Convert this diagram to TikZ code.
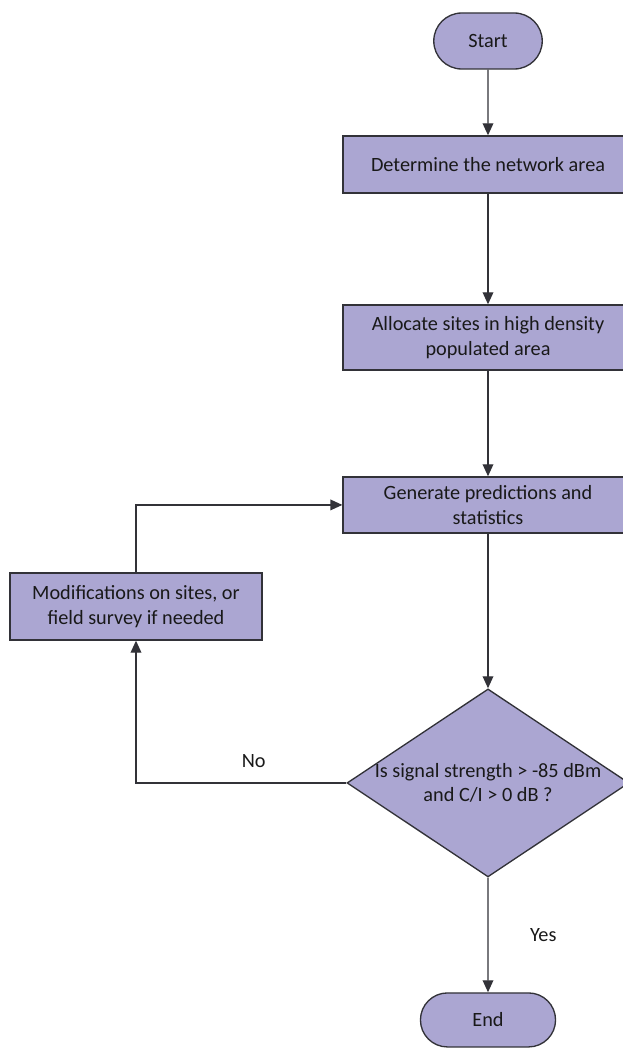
\documentclass[tikz,border=0pt]{standalone}
\usepackage{fontspec}
\setmainfont{Carlito}
\usetikzlibrary{shapes.geometric,shapes.misc,arrows.meta,positioning}
\definecolor{boxfill}{RGB}{171,166,210}
\definecolor{inkgray}{RGB}{50,50,56}

\begin{document}
\begin{tikzpicture}[x=0.75pt, y=-0.75pt, >={Triangle[width=8pt,length=9pt]}, ->, line width=1pt, draw=inkgray, text=black!90, font=\fontsize{15.2}{18.5}\selectfont]
		\tikzstyle{startend} = [rounded rectangle, draw, fill=boxfill, minimum height=42pt]
		\tikzstyle{process} = [rectangle, draw, fill=boxfill, align=center, minimum width=217.5pt]
		\tikzstyle{decision} = [diamond, draw, fill=boxfill, align=center, shape aspect=1.5, inner sep=-8pt, minimum width=211.5pt, minimum height=141pt]
		\tikzstyle{answer} = [inner sep=1pt]
		
		\useasboundingbox (0,0) rectangle (622,1049);
		\fill[white] (0,0) rectangle (622,1049);
		
		\node[startend, minimum width=88pt] (start) at (488,41) {Start};
		\node[process, minimum height=42.75pt] (area) [below of=start, node distance=92.6pt] {Determine the network area};
		\node[process, minimum height=48.75pt] (allocate) [below of=area, node distance=129.75pt] {Allocate sites in high density\\populated area};
		\node[process, minimum height=42pt] (predict) [below of=allocate, node distance=125.6pt] {Generate predictions and\\statistics};
		\node[decision] (check) [below of=predict, node distance=208.5pt] {Is signal strength > -85 dBm\\and C/I > 0 dB ?};
		\node[startend, minimum width=108pt, minimum height=40.5pt] (end) [below of=check, node distance=177.75pt] {End};
		\node[process, minimum width=189pt, minimum height=50.25pt] (modify) at (136,606.5) {Modifications on sites, or\\field survey if needed};
		
		\draw (start) -- (area);
		\draw (area) -- (allocate);
		\draw (allocate) -- (predict);
		\draw (predict) -- (check);
		\draw (check) -- node[answer, right=30pt] (yes) {Yes} (end);
		\draw (check.west) -| node[answer, above=10pt, pos=0.22] (no) {No} (modify.south);
		\draw (modify.north) |- (predict.west);
	\end{tikzpicture}
\end{document}
